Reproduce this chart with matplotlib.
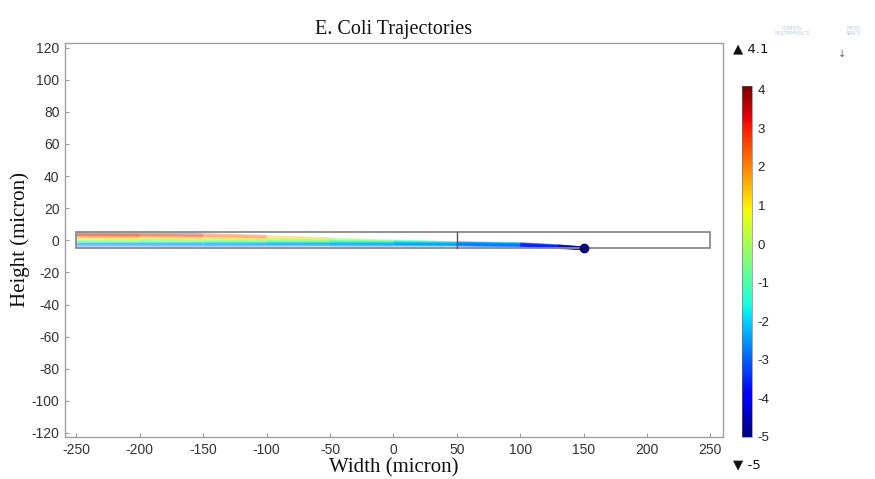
import numpy as np
import matplotlib
matplotlib.use("Agg")
import matplotlib.pyplot as plt
from matplotlib.collections import LineCollection
from matplotlib.patches import Rectangle
from matplotlib.colors import Normalize

plt.rcParams["axes.unicode_minus"] = False

# --- DATA ---
path_x = [-250, -200, -150, -100, -50, 0, 50, 100, 130, 150]
traj_1 = [4.0, 3.8, 3.3, 2.2, 0.8, -0.6, -1.6, -2.3, -3.6, -5.0]
traj_2 = [3.0, 2.7, 2.1, 1.2, 0.1, -0.9, -1.7, -2.4, -3.7, -5.0]
traj_3 = [2.0, 1.6, 1.0, 0.3, -0.5, -1.2, -1.9, -2.5, -3.8, -5.0]
traj_4 = [1.0, 0.6, 0.1, -0.5, -1.0, -1.5, -2.0, -2.6, -3.9, -5.0]
traj_5 = [0.0, -0.3, -0.7, -1.1, -1.5, -1.8, -2.2, -2.8, -4.0, -5.0]
traj_6 = [-1.0, -1.2, -1.5, -1.7, -1.9, -2.1, -2.4, -3.0, -4.1, -5.0]
traj_7 = [-2.0, -2.1, -2.2, -2.3, -2.4, -2.5, -2.6, -3.2, -4.2, -5.0]
traj_8 = [-3.0, -3.0, -3.0, -2.9, -2.8, -2.8, -2.9, -3.4, -4.3, -5.0]
trajectories = [traj_1, traj_2, traj_3, traj_4, traj_5, traj_6, traj_7, traj_8]

end_point = (150, -5)
channel_x = (-250, 250)
channel_y = (-5, 5)
divider_x = 50
color_min, color_max = -5, 4.1
cbar_ticks = [4, 3, 2, 1, 0, -1, -2, -3, -4, -5]
x_ticks = list(range(-250, 251, 50))
y_ticks = list(range(-120, 121, 20))

fig = plt.figure(figsize=(8.75, 4.79), dpi=100)
ax = fig.add_axes([0.0743, 0.0877, 0.752, 0.823])

norm = Normalize(color_min, color_max)
cmap = plt.get_cmap("jet")

# trajectories, coloured by height
for ys in trajectories:
    pts = np.column_stack([path_x, ys])
    segs = np.stack([pts[:-1], pts[1:]], axis=1)
    mid = (pts[:-1, 1] + pts[1:, 1]) / 2
    lc = LineCollection(segs, colors=cmap(norm(mid)), linewidths=2.6, alpha=0.35,
                        capstyle="butt")
    ax.add_collection(lc)

ax.plot(*end_point, "o", color="#0a0a70", markersize=6, zorder=5)

# channel outline and divider
ax.add_patch(Rectangle((channel_x[0], channel_y[0]), channel_x[1] - channel_x[0],
                       channel_y[1] - channel_y[0], fill=False, edgecolor="#8a8a8a",
                       linewidth=1.3, zorder=4))
ax.plot([divider_x, divider_x], channel_y, color="#555555", linewidth=1.0, zorder=4)

ax.set_xlim(-259, 260)
ax.set_ylim(-122.5, 123)
ax.set_xticks(x_ticks)
ax.set_yticks(y_ticks)
ax.tick_params(direction="in", length=3, width=0.8, color="#999999",
               labelsize=10, labelcolor="#333333", pad=4)
for lab in ax.get_xticklabels() + ax.get_yticklabels():
    lab.set_family("Liberation Sans")
for sp in ax.spines.values():
    sp.set_color("#a0a0a0")
    sp.set_linewidth(1.0)

ax.set_title("E. Coli Trajectories", fontfamily="Liberation Serif", fontsize=14.5,
             color="#111111", pad=6)
ax.set_xlabel("Width (micron)", fontfamily="Liberation Serif", fontsize=15,
              color="#111111", labelpad=1)
ax.set_ylabel("Height (micron)", fontfamily="Liberation Serif", fontsize=15,
              color="#111111", labelpad=1)

# colour bar
cax = fig.add_axes([0.848, 0.0877, 0.0114, 0.733])
sm = plt.cm.ScalarMappable(norm=norm, cmap=cmap)
cb = fig.colorbar(sm, cax=cax, ticks=cbar_ticks)
cb.outline.set_linewidth(0.4)
cb.outline.set_edgecolor("#666666")
cax.tick_params(length=0, labelsize=9.5, labelcolor="#222222", pad=4)
for lab in cax.get_yticklabels():
    lab.set_family("Liberation Sans")

fig.text(0.838, 0.897, "\u25b2 " + format(color_max, "g"), fontsize=9.5,
         fontfamily="DejaVu Sans", color="#111111", va="center")
fig.text(0.838, 0.030, "\u25bc " + format(color_min, "g"), fontsize=9.5,
         fontfamily="DejaVu Sans", color="#111111", va="center")

# faint software logo marks in the corner
fig.text(0.905, 0.935, "COMSOL\nMULTIPHYSICS", fontsize=3.5, color="#b8c8dc",
         ha="center", va="center", linespacing=0.9)
fig.text(0.975, 0.935, "MASS\nSPACE", fontsize=3.5, color="#b8c8dc",
         ha="center", va="center", linespacing=0.9)
fig.text(0.962, 0.887, "\u2193", fontsize=7, color="#666666", ha="center", va="center")

fig.savefig("out.png", dpi=100)
